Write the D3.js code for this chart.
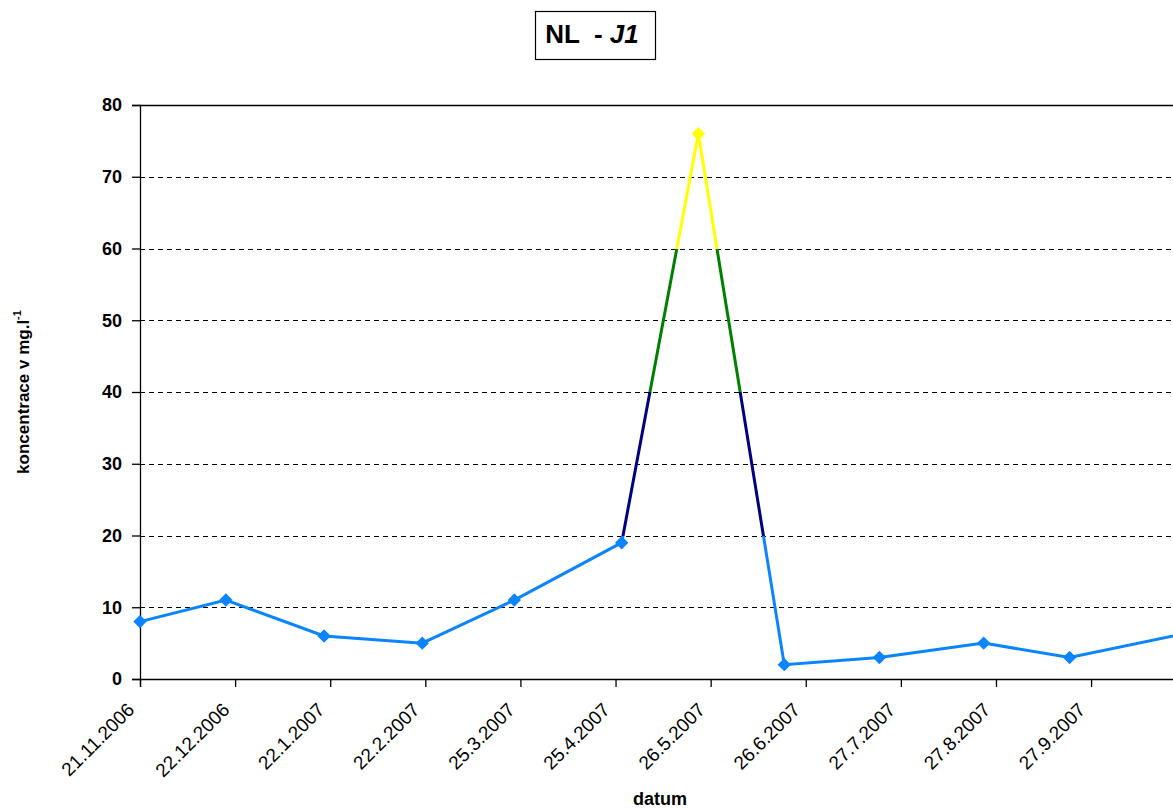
<!DOCTYPE html>
<html>
<head>
<meta charset="utf-8">
<script src="https://cdn.jsdelivr.net/npm/d3@7"></script>
<style>
  html, body { margin: 0; padding: 0; background: #fff; }
  svg { display: block; font-family: "Liberation Sans", Arial, sans-serif; }
</style>
</head>
<body>
<svg id="chart" width="1173" height="810"></svg>
<script>
// ---- data ----
const sampleDates = ["21.11.2006","19.12.2006","20.1.2007","21.2.2007","23.3.2007","27.4.2007","22.5.2007","19.6.2007","20.7.2007","23.8.2007","20.9.2007","4.11.2007"];
const values = [8, 11, 6, 5, 11, 19, 76, 2, 3, 5, 3, 7];
const tickLabels = ["21.11.2006","22.12.2006","22.1.2007","22.2.2007","25.3.2007","25.4.2007","26.5.2007","26.6.2007","27.7.2007","27.8.2007","27.9.2007"];
const yTicks = [0, 10, 20, 30, 40, 50, 60, 70, 80];
const bandThresholds = [20, 40, 60];
const bandColors = ["#0a84ff", "#000080", "#008000", "#ffff00"];

const parseDate = s => { const [d, m, yy] = s.split(".").map(Number); return new Date(Date.UTC(yy, m - 1, d)); };
const data = sampleDates.map((s, i) => ({ date: parseDate(s), value: values[i] }));

const svg = d3.select("#chart");
const plotLeft = 140, plotTop = 105, plotBottom = 679;
const pxPerDay = 3.068;
const startDate = parseDate(tickLabels[0]);
const endDate = data[data.length - 1].date;
const spanDays = (endDate - startDate) / 86400000;

const x = d3.scaleUtc().domain([startDate, endDate]).range([plotLeft, plotLeft + spanDays * pxPerDay]);
const y = d3.scaleLinear().domain([0, 80]).range([plotBottom, plotTop]);
const plotRight = x.range()[1];

const colorOf = v => bandColors[d3.bisectRight(bandThresholds, v)];

// gradient for line
const defs = svg.append("defs");
const grad = defs.append("linearGradient").attr("id", "bandGrad")
  .attr("gradientUnits", "userSpaceOnUse")
  .attr("x1", 0).attr("x2", 0).attr("y1", y(0)).attr("y2", y(80));
const bounds = [0, ...bandThresholds, 80];
bandColors.forEach((c, i) => {
  grad.append("stop").attr("offset", (bounds[i] / 80)).attr("stop-color", c);
  grad.append("stop").attr("offset", (bounds[i + 1] / 80)).attr("stop-color", c);
});

// gridlines
svg.append("g").selectAll("line").data(yTicks.filter(t => t > 0 && t < 80)).join("line")
  .attr("x1", plotLeft).attr("x2", plotRight)
  .attr("y1", d => Math.round(y(d)) + 0.5).attr("y2", d => Math.round(y(d)) + 0.5)
  .attr("stroke", "#000").attr("stroke-width", 1).attr("stroke-dasharray", "5,4");
// top border
svg.append("line").attr("x1", plotLeft).attr("x2", plotRight)
  .attr("y1", Math.round(y(80)) + 0.5).attr("y2", Math.round(y(80)) + 0.5)
  .attr("stroke", "#000").attr("stroke-width", 1.3);

// y axis
const yAxis = svg.append("g").attr("transform", `translate(${plotLeft},0)`)
  .call(d3.axisLeft(y).tickValues(yTicks).tickSize(8).tickPadding(10).tickFormat(d3.format("d")));
yAxis.select(".domain").attr("stroke", "#000").attr("stroke-width", 1.3);
yAxis.selectAll(".tick line").attr("stroke", "#000").attr("stroke-width", 1.3);
yAxis.selectAll(".tick text").attr("font-size", 18).attr("font-weight", "bold")
  .attr("fill", "#000").attr("font-family", "Liberation Sans, Arial, sans-serif");

// x axis
const xAxis = svg.append("g").attr("transform", `translate(0,${plotBottom})`)
  .call(d3.axisBottom(x).tickValues(tickLabels.map(parseDate)).tickSize(8)
    .tickFormat((d, i) => tickLabels[i]));
xAxis.select(".domain").attr("stroke", "#000").attr("stroke-width", 1.3);
xAxis.selectAll(".tick line").attr("stroke", "#000").attr("stroke-width", 1.3);
xAxis.selectAll(".tick text")
  .attr("font-size", 19).attr("fill", "#000")
  .attr("font-family", "Liberation Sans, Arial, sans-serif")
  .attr("text-anchor", "end").attr("dy", null).attr("y", 0).attr("x", 0)
  .attr("transform", "translate(-5,32) rotate(-45)");

// line
const line = d3.line().x(d => x(d.date)).y(d => y(d.value));
svg.append("path").datum(data).attr("d", line)
  .attr("fill", "none").attr("stroke", "url(#bandGrad)").attr("stroke-width", 3)
  .attr("stroke-linejoin", "miter");

// markers
svg.append("g").selectAll("path").data(data).join("path")
  .attr("d", d3.symbol(d3.symbolSquare, 90))
  .attr("transform", d => `translate(${x(d.date)},${y(d.value)}) rotate(45)`)
  .attr("fill", d => colorOf(d.value));

// title box
const tb = svg.append("g");
tb.append("rect").attr("x", 535.5).attr("y", 11.5).attr("width", 120).attr("height", 48)
  .attr("fill", "#fff").attr("stroke", "#000").attr("stroke-width", 1.2);
const tt = tb.append("text").attr("x", 592).attr("y", 43).attr("text-anchor", "middle")
  .attr("font-size", 26).attr("font-weight", "bold").attr("fill", "#000")
  .attr("xml:space", "preserve");
tt.append("tspan").text("NL  - ");
tt.append("tspan").attr("font-style", "italic").text("J1");

// axis titles
const yt = svg.append("text").attr("transform", "translate(29,392) rotate(-90)")
  .attr("text-anchor", "middle").attr("font-size", 17).attr("font-weight", "bold").attr("fill", "#000");
yt.append("tspan").text("koncentrace v mg.l");
yt.append("tspan").attr("dy", -8).attr("font-size", 11).text("-1");

svg.append("text").attr("x", 660).attr("y", 805).attr("text-anchor", "middle")
  .attr("font-size", 18).attr("font-weight", "bold").attr("fill", "#000").text("datum");
</script>
</body>
</html>
